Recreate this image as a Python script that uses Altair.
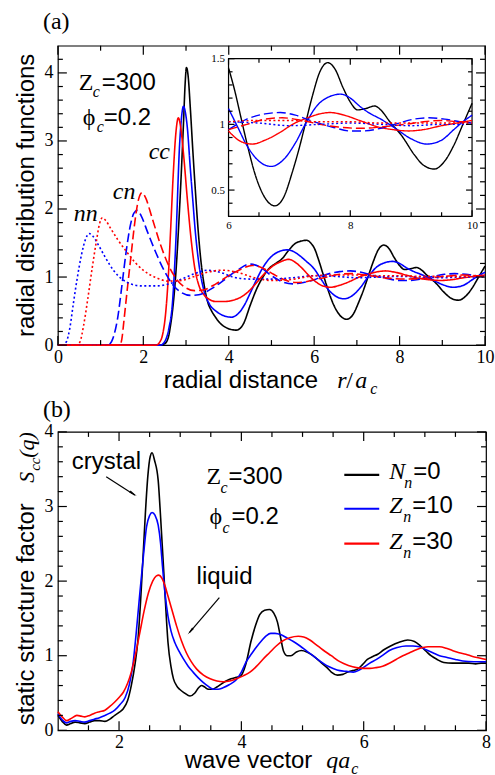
import altair as alt
import pandas as pd

SANS = "Liberation Sans"
SERIF = "Liberation Serif"
BLACK, BLUE, RED = "#000000", "#0000ff", "#ff0000"

# ---------------- panel (a): radial distribution functions ----------------
r_cc_0 = [0, 2.4, 2.5, 2.58, 2.64, 2.7, 2.76, 2.85, 2.94, 2.98, 3.01, 3.05, 3.1, 3.16, 3.22, 3.28, 3.34, 3.42, 3.5, 3.6,
          3.69, 3.8, 3.93, 4.05, 4.18, 4.35, 4.5, 4.65, 4.8, 4.95, 5.1, 5.25, 5.4, 5.55, 5.7, 5.83, 5.92, 6.0, 6.1, 6.2,
          6.3, 6.45, 6.6, 6.76, 6.9, 7.05, 7.15, 7.26, 7.38, 7.5, 7.63, 7.75, 7.88, 8.0, 8.12, 8.25, 8.4, 8.5, 8.65, 8.85,
          9.05, 9.2, 9.38, 9.55, 9.7, 9.85, 10.0]
g_cc_0 = [0, 0, 0.02, 0.1, 0.3, 0.6, 1.04, 2.02, 3.25, 3.85, 4.08, 3.95, 3.49, 2.85, 2.26, 1.72, 1.29, 0.9, 0.65, 0.5,
          0.41, 0.32, 0.26, 0.23, 0.22, 0.32, 0.58, 0.82, 1.0, 1.13, 1.2, 1.27, 1.39, 1.49, 1.53, 1.54, 1.5, 1.43, 1.26, 1.06,
          0.86, 0.6, 0.44, 0.38, 0.44, 0.64, 0.8, 1.0, 1.22, 1.4, 1.47, 1.42, 1.28, 1.17, 1.11, 1.12, 1.14, 1.11, 1.02, 0.91,
          0.77, 0.69, 0.66, 0.72, 0.84, 1.0, 1.16]

r_cc_10 = [0, 2.4, 2.5, 2.6, 2.68, 2.76, 2.85, 2.9, 2.94, 2.99, 3.03, 3.1, 3.15, 3.22, 3.3, 3.42, 3.55, 3.7, 3.85, 4.06,
           4.2, 4.35, 4.5, 4.65, 4.8, 4.95, 5.1, 5.25, 5.37, 5.5, 5.65, 5.8, 6.0, 6.15, 6.3, 6.5, 6.7, 6.9, 7.1, 7.26,
           7.45, 7.65, 7.84, 8.0, 8.15, 8.3, 8.5, 8.74, 9.0, 9.26, 9.5, 9.7, 9.85, 10.0]
g_cc_10 = [0, 0, 0.05, 0.25, 0.6, 1.5, 2.95, 3.38, 3.51, 3.4, 3.2, 2.6, 2.2, 1.65, 1.2, 0.8, 0.6, 0.5, 0.44, 0.41,
           0.45, 0.57, 0.76, 0.96, 1.14, 1.27, 1.35, 1.39, 1.4, 1.38, 1.32, 1.24, 1.12, 0.98, 0.84, 0.72, 0.68, 0.73, 0.86, 1.0,
           1.14, 1.21, 1.23, 1.2, 1.14, 1.09, 1.04, 0.97, 0.89, 0.85, 0.88, 0.96, 1.02, 1.07]

r_cc_30 = [0, 2.3, 2.38, 2.45, 2.52, 2.58, 2.64, 2.7, 2.76, 2.82, 2.88, 2.95, 3.03, 3.12, 3.2, 3.3, 3.42, 3.55, 3.7, 3.9,
           4.1, 4.3, 4.45, 4.6, 4.75, 4.9, 5.05, 5.2, 5.41, 5.55, 5.7, 5.85, 6.0, 6.2, 6.39, 6.6, 6.85, 7.05, 7.3, 7.5,
           7.67, 7.9, 8.15, 8.46, 8.7, 8.96, 9.2, 9.5, 9.75, 10.0]
g_cc_30 = [0, 0, 0.04, 0.15, 0.45, 0.95, 1.7, 2.5, 3.1, 3.34, 3.18, 2.75, 2.15, 1.55, 1.15, 0.88, 0.74, 0.67, 0.64, 0.64,
           0.66, 0.71, 0.78, 0.88, 0.99, 1.09, 1.17, 1.22, 1.26, 1.22, 1.14, 1.04, 0.95, 0.87, 0.85, 0.88, 0.94, 1.0, 1.05, 1.08,
           1.09, 1.07, 1.03, 0.98, 0.96, 0.95, 0.96, 0.99, 1.01, 1.03]

r_cn_10 = [0, 1.15, 1.22, 1.3, 1.4, 1.5, 1.6, 1.7, 1.78, 1.86, 1.95, 2.1, 2.3, 2.5, 2.7, 2.9, 3.1, 3.3, 3.6, 3.9,
           4.2, 4.5, 4.75, 5.0, 5.25, 5.5, 5.75, 6.0, 6.3, 6.6, 6.85, 7.1, 7.4, 7.7, 8.0, 8.2, 8.5, 8.8, 9.05, 9.29,
           9.55, 9.8, 10.0]
g_cn_10 = [0, 0, 0.02, 0.12, 0.4, 0.88, 1.38, 1.77, 1.94, 1.98, 1.9, 1.66, 1.35, 1.08, 0.88, 0.77, 0.73, 0.74, 0.83, 0.96,
           1.1, 1.19, 1.14, 1.02, 0.93, 0.9, 0.92, 0.96, 1.04, 1.08, 1.09, 1.07, 1.02, 0.98, 0.95, 0.95, 0.97, 1.01, 1.04, 1.05,
           1.04, 1.02, 1.01]

r_cn_30 = [0, 1.45, 1.5, 1.55, 1.63, 1.71, 1.8, 1.88, 1.97, 2.05, 2.2, 2.4, 2.6, 2.8, 3.0, 3.2, 3.4, 3.7, 4.0, 4.3,
           4.55, 4.8, 5.05, 5.3, 5.55, 5.8, 6.0, 6.3, 6.6, 6.88, 7.2, 7.5, 7.8, 8.17, 8.5, 8.9, 9.2, 9.5, 9.8, 10.0]
g_cn_30 = [0, 0, 0.1, 0.38, 0.85, 1.3, 1.8, 2.12, 2.24, 2.17, 1.88, 1.48, 1.16, 0.95, 0.84, 0.8, 0.81, 0.9, 1.02, 1.12,
           1.17, 1.13, 1.04, 0.96, 0.92, 0.93, 0.96, 1.0, 1.04, 1.05, 1.03, 1.0, 0.98, 0.97, 0.98, 1.0, 1.02, 1.03, 1.02, 1.02]

r_nn_10 = [0, 0.12, 0.2, 0.28, 0.36, 0.45, 0.55, 0.65, 0.73, 0.82, 0.95, 1.1, 1.3, 1.5, 1.7, 1.95, 2.3, 2.6, 2.9, 3.2,
           3.5, 3.8, 4.1, 4.5, 5.0, 5.5, 6.0, 6.5, 7.0, 7.5, 8.0, 8.5, 9.0, 9.5, 10.0]
g_nn_10 = [0, 0, 0.05, 0.25, 0.6, 0.97, 1.32, 1.56, 1.64, 1.6, 1.47, 1.3, 1.1, 0.97, 0.9, 0.87, 0.87, 0.9, 0.97, 1.05,
           1.1, 1.07, 1.0, 0.97, 0.97, 0.99, 1.02, 1.01, 0.99, 1.0, 1.01, 1.0, 0.99, 1.0, 1.0]

r_nn_30 = [0, 0.45, 0.52, 0.6, 0.7, 0.8, 0.9, 0.97, 1.04, 1.12, 1.25, 1.4, 1.6, 1.8, 2.0, 2.3, 2.6, 2.9, 3.2, 3.5,
           3.85, 4.2, 4.6, 5.0, 5.4, 5.8, 6.0, 6.5, 7.0, 7.5, 8.0, 8.5, 9.0, 9.5, 10.0]
g_nn_30 = [0, 0, 0.05, 0.28, 0.68, 1.12, 1.52, 1.77, 1.87, 1.83, 1.7, 1.55, 1.38, 1.22, 1.1, 0.99, 0.94, 0.95, 1.01, 1.07,
           1.1, 1.07, 0.99, 0.95, 0.96, 1.0, 1.02, 1.03, 1.03, 1.02, 1.02, 1.01, 1.01, 1.01, 1.01]

curve_names = ["cc0", "cc10", "cc30", "cn10", "cn30", "nn10", "nn30"]
curve_colors = [BLACK, BLUE, RED, BLUE, RED, BLUE, RED]
curve_dashes = [[1, 0], [1, 0], [1, 0], [9, 4], [9, 4], [2, 2.5], [2, 2.5]]

# ---------------- panel (b): static structure factor ----------------
q_n0 = [1.0, 1.07, 1.14, 1.21, 1.28, 1.36, 1.44, 1.52, 1.6, 1.68, 1.77, 1.85, 1.93, 2.0, 2.07, 2.14, 2.2, 2.26, 2.31, 2.35,
        2.39, 2.43, 2.47, 2.51, 2.54, 2.58, 2.64, 2.68, 2.72, 2.76, 2.8, 2.85, 2.89, 2.94, 2.99, 3.07, 3.16, 3.24, 3.3, 3.35,
        3.4, 3.46, 3.52, 3.6, 3.67, 3.75, 3.83, 3.92, 3.99, 4.07, 4.16, 4.23, 4.3, 4.38, 4.46, 4.53, 4.59, 4.64, 4.69, 4.75,
        4.81, 4.9, 4.98, 5.07, 5.17, 5.3, 5.4, 5.47, 5.57, 5.66, 5.74, 5.82, 5.9, 5.98, 6.06, 6.15, 6.23, 6.33, 6.44, 6.58,
        6.72, 6.83, 6.93, 7.02, 7.1, 7.2, 7.31, 7.45, 7.59, 7.72, 7.83, 7.92, 8.0]
s_n0 = [0.2, 0.12, 0.07, 0.09, 0.11, 0.1, 0.09, 0.11, 0.13, 0.13, 0.12, 0.15, 0.2, 0.24, 0.29, 0.4, 0.6, 0.88, 1.22, 1.7,
        2.29, 2.9, 3.4, 3.67, 3.72, 3.62, 3.35, 2.85, 2.29, 1.7, 1.18, 0.85, 0.69, 0.6, 0.55, 0.5, 0.46, 0.5, 0.57, 0.6,
        0.58, 0.55, 0.55, 0.58, 0.62, 0.66, 0.69, 0.71, 0.73, 0.88, 1.2, 1.4, 1.55, 1.61, 1.62, 1.57, 1.45, 1.25, 1.06, 1.0,
        1.0, 1.05, 1.07, 1.05, 1.0, 0.91, 0.84, 0.78, 0.74, 0.75, 0.78, 0.8, 0.82, 0.88, 0.95, 0.99, 1.02, 1.08, 1.13, 1.18,
        1.21, 1.19, 1.13, 1.06, 1.0, 0.95, 0.91, 0.9, 0.9, 0.9, 0.89, 0.9, 0.9]

q_z10 = [1.0, 1.07, 1.14, 1.21, 1.28, 1.36, 1.44, 1.52, 1.6, 1.68, 1.77, 1.85, 1.93, 2.02, 2.1, 2.17, 2.23, 2.28, 2.34, 2.4,
         2.45, 2.5, 2.54, 2.59, 2.64, 2.68, 2.71, 2.75, 2.8, 2.85, 2.91, 2.98, 3.05, 3.13, 3.21, 3.3, 3.38, 3.46, 3.54, 3.62,
         3.7, 3.8, 3.92, 4.0, 4.08, 4.17, 4.25, 4.33, 4.41, 4.48, 4.55, 4.65, 4.74, 4.85, 4.96, 5.07, 5.17, 5.28, 5.39, 5.5,
         5.61, 5.72, 5.83, 5.91, 5.99, 6.1, 6.21, 6.32, 6.42, 6.55, 6.69, 6.8, 6.91, 7.02, 7.13, 7.24, 7.35, 7.5, 7.62, 7.8,
         8.0]
s_z10 = [0.22, 0.14, 0.1, 0.12, 0.13, 0.12, 0.11, 0.13, 0.15, 0.17, 0.2, 0.23, 0.27, 0.35, 0.44, 0.62, 0.9, 1.3, 1.84, 2.35,
         2.73, 2.88, 2.92, 2.88, 2.75, 2.5, 2.2, 1.85, 1.53, 1.33, 1.18, 1.06, 0.96, 0.86, 0.78, 0.7, 0.64, 0.59, 0.55, 0.55,
         0.57, 0.61, 0.68, 0.78, 0.92, 1.03, 1.12, 1.2, 1.27, 1.3, 1.3, 1.28, 1.24, 1.19, 1.13, 1.06, 1.0, 0.93, 0.87, 0.83,
         0.8, 0.79, 0.78, 0.8, 0.84, 0.9, 0.95, 1.01, 1.07, 1.11, 1.13, 1.13, 1.12, 1.08, 1.04, 1.0, 0.98, 0.95, 0.93, 0.92,
         0.92]

q_z30 = [1.0, 1.07, 1.14, 1.22, 1.31, 1.38, 1.44, 1.52, 1.6, 1.68, 1.77, 1.85, 1.93, 2.0, 2.07, 2.14, 2.2, 2.27, 2.34, 2.41,
         2.48, 2.55, 2.61, 2.65, 2.7, 2.75, 2.8, 2.87, 2.94, 3.02, 3.1, 3.18, 3.27, 3.38, 3.49, 3.6, 3.7, 3.81, 3.92, 4.03,
         4.14, 4.25, 4.35, 4.46, 4.57, 4.68, 4.79, 4.93, 5.02, 5.12, 5.22, 5.33, 5.47, 5.61, 5.75, 5.88, 6.0, 6.1, 6.2, 6.31,
         6.42, 6.53, 6.64, 6.75, 6.86, 6.97, 7.05, 7.13, 7.24, 7.35, 7.45, 7.56, 7.67, 7.78, 7.89, 8.0]
s_z30 = [0.25, 0.18, 0.13, 0.16, 0.2, 0.19, 0.18, 0.2, 0.23, 0.25, 0.27, 0.32, 0.38, 0.44, 0.51, 0.63, 0.78, 1.02, 1.31, 1.6,
         1.84, 2.0, 2.07, 2.08, 2.04, 1.94, 1.8, 1.6, 1.4, 1.2, 1.04, 0.92, 0.82, 0.74, 0.69, 0.66, 0.65, 0.66, 0.69, 0.73,
         0.78, 0.86, 0.95, 1.04, 1.13, 1.2, 1.24, 1.26, 1.25, 1.21, 1.15, 1.08, 1.0, 0.92, 0.87, 0.84, 0.83, 0.83, 0.84, 0.86,
         0.9, 0.95, 1.0, 1.04, 1.08, 1.11, 1.12, 1.12, 1.12, 1.1, 1.07, 1.04, 1.02, 0.99, 0.97, 0.95]

sq_names = ["N0", "Z10", "Z30"]
sq_colors = [BLACK, BLUE, RED]

# tick positions
xa_major = [0, 2, 4, 6, 8, 10]
xa_minor = [1, 3, 5, 7, 9]
ya_major = [0, 1, 2, 3, 4]
ya_minor = [0.2, 0.4, 0.6, 0.8, 1.2, 1.4, 1.6, 1.8, 2.2, 2.4, 2.6, 2.8, 3.2, 3.4, 3.6, 3.8, 4.2]
xi_major = [6, 8, 10]
xi_minor = [6.5, 7, 7.5, 8.5, 9, 9.5]
yi_major = [0.5, 1, 1.5]
yi_minor = [0.4, 0.6, 0.7, 0.8, 0.9, 1.1, 1.2, 1.3, 1.4]
xb_major = [2, 4, 6, 8]
xb_minor = [1.5, 2.5, 3, 3.5, 4.5, 5, 5.5, 6.5, 7, 7.5]
yb_major = [0, 1, 2, 3, 4]
yb_minor = [0.2, 0.4, 0.6, 0.8, 1.2, 1.4, 1.6, 1.8, 2.2, 2.4, 2.6, 2.8, 3.2, 3.4, 3.6, 3.8]

# ---------------- build tables ----------------
gdf = pd.concat([
    pd.DataFrame({"r": rr, "g": gg, "curve": nm})
    for nm, rr, gg in [("cc0", r_cc_0, g_cc_0), ("cc10", r_cc_10, g_cc_10), ("cc30", r_cc_30, g_cc_30),
                       ("cn10", r_cn_10, g_cn_10), ("cn30", r_cn_30, g_cn_30),
                       ("nn10", r_nn_10, g_nn_10), ("nn30", r_nn_30, g_nn_30)]
], ignore_index=True)

sdf = pd.concat([
    pd.DataFrame({"q": qq, "s": ss, "curve": nm})
    for nm, qq, ss in [("N0", q_n0, s_n0), ("Z10", q_z10, s_z10), ("Z30", q_z30, s_z30)]
], ignore_index=True)

ONE = pd.DataFrame({"k": [0]})

W, H = 428, 300
WB, HB = 429, 299


def axis(values, size=18, pad=3, **kw):
    return alt.Axis(values=values, format="~r", ticks=False, domain=False, grid=False,
                    labelFont=SERIF, labelFontSize=size, labelPadding=pad, labelColor="black",
                    labelFlush=False, labelOverlap=False, title=None, **kw)


def txt(s, x, y, size=24, font=SANS, style="normal", align="left", angle=0):
    return alt.Chart(ONE).mark_text(text=s, font=font, fontSize=size, fontStyle=style, align=align,
                                    baseline="alphabetic", angle=angle, color="black").encode(
        x=alt.value(x), y=alt.value(y))


def tick_layers(xmaj, xmin, ymaj, ymin, xs, ys, axx, axy, left, right, top, bottom, lmaj, lmin, sw=1.2):
    out = []
    for vals, ln in ((xmaj, lmaj), (xmin, lmin)):
        base = alt.Chart(pd.DataFrame({"v": vals})).mark_rule(color="black", strokeWidth=sw)
        out.append(base.encode(x=alt.X("v:Q", scale=xs, axis=axx), y=alt.value(bottom), y2=alt.value(bottom - ln)))
        out.append(base.encode(x=alt.X("v:Q", scale=xs, axis=axx), y=alt.value(top), y2=alt.value(top + ln)))
    for vals, ln in ((ymaj, lmaj), (ymin, lmin)):
        base = alt.Chart(pd.DataFrame({"v": vals})).mark_rule(color="black", strokeWidth=sw)
        out.append(base.encode(y=alt.Y("v:Q", scale=ys, axis=axy), x=alt.value(left), x2=alt.value(left + ln)))
        out.append(base.encode(y=alt.Y("v:Q", scale=ys, axis=axy), x=alt.value(right), x2=alt.value(right - ln)))
    return out


color_a = alt.Color("curve:N", scale=alt.Scale(domain=curve_names, range=curve_colors), legend=None)
dash_a = alt.StrokeDash("curve:N", scale=alt.Scale(domain=curve_names, range=curve_dashes), legend=None)

# ---- panel (a) main ----
xs_a = alt.Scale(domain=[0, 10], nice=False, zero=False)
ys_a = alt.Scale(domain=[0, 4.4], nice=False, zero=False)
ax_xa = axis(xa_major, pad=3)
ax_ya = axis(ya_major, pad=5)

curves_a = alt.Chart(gdf).mark_line(interpolate="monotone", strokeWidth=1.6).encode(
    x=alt.X("r:Q", scale=xs_a, axis=ax_xa), y=alt.Y("g:Q", scale=ys_a, axis=ax_ya),
    color=color_a, strokeDash=dash_a)

ticks_a = tick_layers(xa_major, xa_minor, ya_major, ya_minor, xs_a, ys_a, ax_xa, ax_ya,
                      0, W, 0, H, 9, 5)

texts_a = [
    txt("(a)", -15, -17, font=SERIF),
    txt("Z", 21, 44, font=SERIF),
    txt("c", 35, 51, size=16, font=SERIF, style="italic"),
    txt("=300", 44, 44),
    txt("ϕ", 25, 79, font=SERIF),
    txt("c", 39, 86, size=16, font=SERIF, style="italic"),
    txt("=0.2", 46, 79),
    txt("cc", 91, 114, font=SERIF, style="italic"),
    txt("cn", 55, 154, font=SERIF, style="italic"),
    txt("nn", 16, 176, font=SERIF, style="italic"),
    txt("radial distribution functions", -24, 150, align="center", angle=270),
    txt("radial distance", 106, 343),
    txt("r", 280, 343, font=SERIF, style="italic"),
    txt("/", 289, 343, font=SERIF),
    txt("a", 298, 343, font=SERIF, style="italic"),
    txt("c", 313, 349, size=16, font=SERIF, style="italic"),
]

main_a = alt.layer(curves_a, *ticks_a, *texts_a)

# ---- panel (a) inset ----
IL, IR, IT, IB = 171, 415, 13, 171
xs_i = alt.Scale(domain=[6, 10], range=[IL, IR], nice=False, zero=False)
ys_i = alt.Scale(domain=[0.3, 1.5], range=[IB, IT], nice=False, zero=False)
ax_xi = axis(xi_major, size=11, pad=3, orient="bottom", offset=-(H - IB))
ax_yi = axis(yi_major, size=11, pad=4, orient="left", offset=-IL)

inset_box = pd.DataFrame({"x0": [6], "x1": [10], "y0": [0.3], "y1": [1.5]})
frame_i = alt.Chart(inset_box).mark_rect(fill="white", fillOpacity=0, stroke="black", strokeWidth=1.2).encode(
    x=alt.X("x0:Q", scale=xs_i, axis=ax_xi), x2="x1:Q",
    y=alt.Y("y0:Q", scale=ys_i, axis=ax_yi), y2="y1:Q")

curves_i = alt.Chart(gdf).transform_filter("datum.r >= 6").mark_line(
    interpolate="monotone", strokeWidth=1.4).encode(
    x=alt.X("r:Q", scale=xs_i, axis=ax_xi), y=alt.Y("g:Q", scale=ys_i, axis=ax_yi),
    color=color_a, strokeDash=dash_a)

ticks_i = tick_layers(xi_major, xi_minor, yi_major, yi_minor, xs_i, ys_i, ax_xi, ax_yi,
                      IL, IR, IT, IB, 6, 4)

inset_a = alt.layer(frame_i, curves_i, *ticks_i)

panel_a = alt.layer(main_a, inset_a).resolve_scale(x="independent", y="independent").properties(
    width=W, height=H)

# ---- panel (b) ----
xs_b = alt.Scale(domain=[1, 8], nice=False, zero=False)
ys_b = alt.Scale(domain=[0, 4], nice=False, zero=False)
ax_xb = axis(xb_major, pad=3)
ax_yb = axis(yb_major, pad=5)

curves_b = alt.Chart(sdf).mark_line(interpolate="monotone", strokeWidth=1.6).encode(
    x=alt.X("q:Q", scale=xs_b, axis=ax_xb), y=alt.Y("s:Q", scale=ys_b, axis=ax_yb),
    color=alt.Color("curve:N", scale=alt.Scale(domain=sq_names, range=sq_colors), legend=None))

ticks_b = tick_layers(xb_major, xb_minor, yb_major, yb_minor, xs_b, ys_b, ax_xb, ax_yb,
                      0, WB, 0, HB, 9, 5)

arrows = pd.DataFrame({"x0": [1.79, 3.64], "y0": [3.40, 1.78], "x1": [2.26, 3.15], "y1": [3.15, 1.31]})
heads = pd.DataFrame({"hx": [2.215, 3.18], "hy": [3.18, 1.34], "ang": [123, 221]})

arrow_lines = alt.Chart(arrows).mark_rule(color="black", strokeWidth=1.2).encode(
    x=alt.X("x0:Q", scale=xs_b, axis=ax_xb), x2="x1:Q",
    y=alt.Y("y0:Q", scale=ys_b, axis=ax_yb), y2="y1:Q")
arrow_heads = alt.Chart(heads).mark_point(shape="wedge", filled=True, size=90, color="black", opacity=1).encode(
    x=alt.X("hx:Q", scale=xs_b, axis=ax_xb), y=alt.Y("hy:Q", scale=ys_b, axis=ax_yb),
    angle=alt.Angle("ang:Q", scale=None))

legend_lines = [
    alt.Chart(ONE).mark_rule(color=c, strokeWidth=2.2).encode(
        x=alt.value(287), x2=alt.value(322), y=alt.value(yy))
    for c, yy in ((BLACK, 43), (BLUE, 77), (RED, 112))
]

texts_b = [
    txt("(b)", -15, -15, font=SERIF),
    txt("crystal", 14, 37),
    txt("liquid", 139, 152),
    txt("Z", 149, 52, font=SERIF),
    txt("c", 163, 61, size=16, font=SERIF, style="italic"),
    txt("=300", 171, 52),
    txt("ϕ", 152, 92, font=SERIF),
    txt("c", 165, 101, size=16, font=SERIF, style="italic"),
    txt("=0.2", 174, 92),
    txt("N", 332, 47, font=SERIF, style="italic"),
    txt("n", 347, 56, size=16, font=SERIF, style="italic"),
    txt("=0", 356, 47),
    txt("Z", 332, 81, font=SERIF, style="italic"),
    txt("n", 346, 90, size=16, font=SERIF, style="italic"),
    txt("=10", 355, 81),
    txt("Z", 332, 117, font=SERIF, style="italic"),
    txt("n", 346, 126, size=16, font=SERIF, style="italic"),
    txt("=30", 355, 117),
    txt("static structure factor", -24, 294, angle=270),
    txt("S", -24, 51, size=22, font=SERIF, style="italic", angle=270),
    txt("cc", -18, 39, size=15, font=SERIF, style="italic", angle=270),
    txt("(q)", -24, 26, size=22, font=SERIF, style="italic", angle=270),
    txt("wave vector", 127, 337),
    txt("qa", 269, 337, font=SERIF, style="italic"),
    txt("c", 294, 343, size=16, font=SERIF, style="italic"),
]

panel_b = alt.layer(curves_b, *ticks_b, arrow_lines, arrow_heads, *legend_lines, *texts_b).properties(
    width=WB, height=HB)

chart = alt.vconcat(panel_a, panel_b, spacing=87, bounds="flush").properties(
    padding={"left": 14, "top": 8, "right": 0, "bottom": 0},
    background="white",
).configure_view(stroke="black", strokeWidth=1.2)

chart.save("out.html", embed_options={"renderer": "svg", "actions": False})
